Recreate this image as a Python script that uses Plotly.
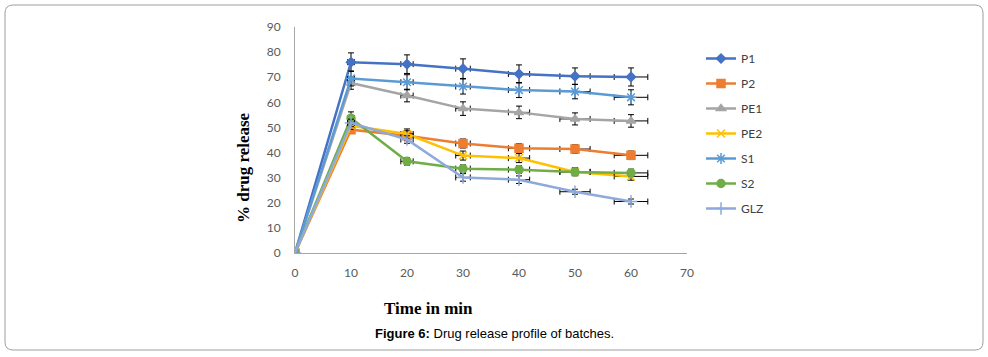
import plotly.graph_objects as go

time_min = [0, 10, 20, 30, 40, 50, 60]
x_error = [0, 0.6, 1.1, 1.3, 1.9, 2.7, 3.0]

series_names = ["P1", "P2", "PE1", "PE2", "S1", "S2", "GLZ"]
P1 = [0, 76.0, 75.2, 73.4, 71.3, 70.4, 70.1]
P2 = [0, 49.1, 46.7, 43.6, 41.7, 41.4, 38.9]
PE1 = [0, 67.7, 62.7, 57.5, 56.0, 53.4, 52.6]
PE2 = [0, 50.7, 47.4, 38.8, 37.8, 32.3, 30.5]
S1 = [0, 69.5, 68.0, 66.3, 64.9, 64.3, 62.0]
S2 = [0, 53.7, 36.5, 33.6, 33.2, 32.3, 31.9]
GLZ = [0, 51.8, 45.2, 30.1, 29.2, 24.4, 20.5]

P1_err = [0, 3.7, 3.7, 3.9, 3.6, 3.3, 3.6]
P2_err = [0, 1.5, 2.0, 1.8, 1.8, 1.7, 1.7]
PE1_err = [0, 2.5, 2.5, 2.7, 2.5, 2.4, 2.5]
PE2_err = [0, 1.5, 2.0, 1.8, 1.8, 1.5, 1.5]
S1_err = [0, 3.0, 3.0, 3.0, 3.0, 2.9, 3.0]
S2_err = [0, 2.5, 1.5, 1.5, 1.5, 1.5, 1.5]
GLZ_err = [0, 1.5, 1.5, 1.5, 1.5, 1.0, 1.0]

y_ticks = [0, 10, 20, 30, 40, 50, 60, 70, 80, 90]
x_ticks = [0, 10, 20, 30, 40, 50, 60, 70]

values = [P1, P2, PE1, PE2, S1, S2, GLZ]
errors = [P1_err, P2_err, PE1_err, PE2_err, S1_err, S2_err, GLZ_err]
colors = ["#4472C4", "#ED7D31", "#A5A5A5", "#FFC000", "#5B9BD5", "#70AD47", "#8EA9DB"]
symbols = ["diamond", "square", "triangle-up", "x-thin-open", "asterisk-open", "circle", "cross-thin-open"]
sizes = [7, 8, 8, 8, 9, 8, 9]

fig = go.Figure()
for name, y, err, c, s, sz in zip(series_names, values, errors, colors, symbols, sizes):
    fig.add_trace(go.Scatter(
        x=time_min, y=y, name=name, mode="lines+markers",
        legendgroup=name,
        line=dict(color=c, width=2.5),
        marker=dict(symbol=s, size=sz, color=c, line=dict(color=c, width=1.5)),
        error_y=dict(type="data", array=err, visible=True, color="black", thickness=1, width=3),
        error_x=dict(type="data", array=x_error, visible=True, color="black", thickness=1, width=3),
    ))

W, H = 988, 357
L, R, T, B = 295, 301, 27, 104
pw, ph = W - L - R, H - T - B

def px(xp):
    return (xp - L) / pw

def py(yp):
    return (H - B - yp) / ph

# rounded border
x0, y0, x1, y1, r = 5, 5, 983, 350, 8
path = (f"M {px(x0 + r)} {py(y0)} L {px(x1 - r)} {py(y0)} Q {px(x1)} {py(y0)} {px(x1)} {py(y0 + r)} "
        f"L {px(x1)} {py(y1 - r)} Q {px(x1)} {py(y1)} {px(x1 - r)} {py(y1)} "
        f"L {px(x0 + r)} {py(y1)} Q {px(x0)} {py(y1)} {px(x0)} {py(y1 - r)} "
        f"L {px(x0)} {py(y0 + r)} Q {px(x0)} {py(y0)} {px(x0 + r)} {py(y0)} Z")

tick_font = dict(family="Lato, Liberation Sans, sans-serif", size=12, color="#595959")

fig.update_layout(
    width=W, height=H,
    margin=dict(l=L, r=R, t=T, b=B),
    paper_bgcolor="white", plot_bgcolor="white",
    showlegend=True,
    legend=dict(x=px(701), y=py(44), xanchor="left", yanchor="top",
                font=dict(family="Lato, Liberation Sans, sans-serif", size=12, color="#404040"),
                tracegroupgap=6, itemwidth=30, bgcolor="rgba(0,0,0,0)"),
    xaxis=dict(range=[0, 70], tickvals=x_ticks, showgrid=False, zeroline=False,
               showline=True, linecolor="#A6A6A6", linewidth=1, ticks="",
               ticklabelstandoff=9, tickfont=tick_font),
    yaxis=dict(range=[0, 90], tickvals=y_ticks, showgrid=False, zeroline=False,
               showline=True, linecolor="#A6A6A6", linewidth=1, ticks="",
               ticklabelstandoff=11, tickfont=tick_font),
    shapes=[dict(type="path", xref="paper", yref="paper", path=path,
                 line=dict(color="#9E9E9E", width=1), layer="below")],
    annotations=[
        dict(text="<b>Time in min</b>", xref="paper", yref="paper", x=px(428), y=py(308),
             showarrow=False, xanchor="center", yanchor="middle",
             font=dict(family="Liberation Serif, Times New Roman, serif", size=17, color="black")),
        dict(text="<b>% drug release</b>", xref="paper", yref="paper", x=px(243), y=py(168),
             showarrow=False, textangle=-90, xanchor="center", yanchor="middle",
             font=dict(family="Liberation Serif, Times New Roman, serif", size=17, color="black")),
        dict(text="<b>Figure 6:</b> Drug release profile of batches.", xref="paper", yref="paper",
             x=px(494), y=py(333), showarrow=False, xanchor="center", yanchor="middle",
             font=dict(family="Liberation Sans, Arial, sans-serif", size=13, color="black")),
    ],
)

fig.write_html("out.html", config={"displayModeBar": False},
               post_script="document.body.style.margin='0';document.body.style.overflow='hidden';")
